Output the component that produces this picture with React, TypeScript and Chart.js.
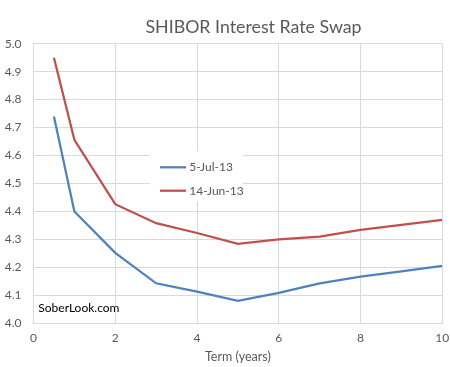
import React, { useEffect, useRef } from 'react';
import { Chart, registerables } from 'chart.js';
Chart.register(...registerables);

const TITLE = 'SHIBOR Interest Rate Swap';
const X_TITLE = 'Term (years)';
const WATERMARK = 'SoberLook.com';
const seriesNames = ['5-Jul-13', '14-Jun-13'];
const terms = [0.5, 1, 2, 3, 4, 5, 6, 7, 8, 9, 10];
const jul13 = [4.74, 4.40, 4.252, 4.143, 4.113, 4.080, 4.109, 4.143, 4.167, 4.186, 4.205];
const jun13 = [4.95, 4.656, 4.426, 4.358, 4.323, 4.284, 4.300, 4.310, 4.334, 4.352, 4.370];
const colors = ['#4F81BD', '#C0504D'];
const FONT = 'Lato';
const TEXT = '#595959';

const overlay = {
  id: 'overlay',
  afterDraw(chart: any) {
    const ctx = chart.ctx;
    const a = chart.chartArea;
    ctx.save();
    ctx.fillStyle = TEXT;
    ctx.textBaseline = 'alphabetic';
    ctx.textAlign = 'center';
    ctx.font = `17.8px ${FONT}`;
    ctx.fillText(TITLE, 253.5, 33);
    ctx.font = `12.5px ${FONT}`;
    ctx.fillText(X_TITLE, (a.left + a.right) / 2, 361);
    // legend
    ctx.fillStyle = '#ffffff';
    ctx.fillRect(150, 151, 93, 51);
    ctx.textAlign = 'left';
    const ys = [167.3, 190.7];
    seriesNames.forEach((n, i) => {
      ctx.strokeStyle = colors[i];
      ctx.lineWidth = 2.25;
      ctx.beginPath();
      ctx.moveTo(160, ys[i]);
      ctx.lineTo(186, ys[i]);
      ctx.stroke();
      ctx.fillStyle = TEXT;
      ctx.font = `12px ${FONT}`;
      ctx.fillText(n, 189.3, ys[i] + 4);
    });
    ctx.fillStyle = '#000000';
    ctx.font = `12px ${FONT}`;
    ctx.fillText(WATERMARK, 38.3, 311.7);
    ctx.restore();
  },
};

export default function App() {
  const ref = useRef<HTMLCanvasElement>(null);
  useEffect(() => {
    document.body.style.margin = '0';
    const chart = new Chart(ref.current!, {
      type: 'line',
      data: {
        datasets: [jul13, jun13].map((vals, i) => ({
          label: seriesNames[i],
          data: terms.map((t, j) => ({ x: t, y: vals[j] })),
          borderColor: colors[i],
          backgroundColor: colors[i],
          borderWidth: 2.25,
          pointRadius: 0,
          tension: 0,
          fill: false,
        })),
      },
      options: {
        animation: false,
        responsive: false,
        layout: { padding: { top: 43.7, right: 7.7, left: 0, bottom: 0 } },
        plugins: { legend: { display: false }, tooltip: { enabled: false }, title: { display: false } },
        scales: {
          x: {
            type: 'linear',
            min: 0,
            max: 10,
            afterFit: (s: any) => { s.height = 43.7; s.paddingLeft = 0; s.paddingRight = 0; },
            ticks: { stepSize: 2, color: TEXT, font: { family: FONT, size: 12 }, padding: 8, maxRotation: 0 },
            grid: { color: '#d9d9d9', drawTicks: false, lineWidth: 1 },
            border: { color: '#d9d9d9' },
          },
          y: {
            min: 4,
            max: 5,
            afterFit: (s: any) => { s.width = 33.5; s.paddingTop = 0; s.paddingBottom = 0; },
            ticks: {
              stepSize: 0.1,
              color: TEXT,
              font: { family: FONT, size: 12 },
              padding: 12,
              callback: (v: any) => Number(v).toFixed(1),
            },
            grid: { color: '#d9d9d9', drawTicks: false, lineWidth: 1 },
            border: { display: false },
          },
        },
      },
      plugins: [overlay],
    });
    return () => chart.destroy();
  }, []);
  return (
    <div style={{ width: 450, height: 367, background: '#fff' }}>
      <canvas ref={ref} width={450} height={367} />
    </div>
  );
}
